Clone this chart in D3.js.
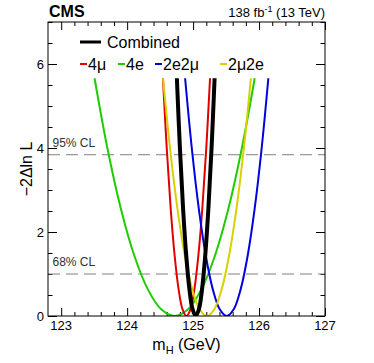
<!DOCTYPE html>
<html>
<head>
<meta charset="utf-8">
<script src="https://cdn.jsdelivr.net/npm/d3@7"></script>
<style>
  body { margin: 0; background: #fff; }
  svg { font-family: "Liberation Sans", Arial, Helvetica, sans-serif; }
</style>
</head>
<body>
<div id="chart"></div>
<script>
// -2 Delta ln L values shared by all scans (read at the same levels)
const dnll = [5.66, 4.0, 2.56, 1.44, 0.64, 0.16, 0, 0.16, 0.64, 1.44, 2.56, 4.0, 5.66];

// m_H values (GeV) of each scan at those levels
const massCombined = [124.754, 124.80, 124.848, 124.896, 124.944, 124.992, 125.04, 125.088, 125.136, 125.184, 125.232, 125.28, 125.326];
const mass4mu = [124.543, 124.60, 124.66, 124.72, 124.78, 124.84, 124.90, 124.96, 125.02, 125.08, 125.14, 125.20, 125.257];
const mass4e = [123.506, 123.70, 123.904, 124.108, 124.312, 124.516, 124.72, 124.924, 125.128, 125.332, 125.536, 125.74, 125.934];
const mass2e2mu = [124.879, 124.98, 125.086, 125.192, 125.298, 125.404, 125.51, 125.616, 125.722, 125.828, 125.934, 126.04, 126.141];
const mass2mu2e = [124.544, 124.65, 124.762, 124.874, 124.986, 125.098, 125.21, 125.322, 125.434, 125.546, 125.658, 125.77, 125.876];

const channels = [
  { name: "4e", mass: mass4e, color: "#1fcc00", width: 2 },
  { name: "4\u03bc", mass: mass4mu, color: "#e00000", width: 2 },
  { name: "2e2\u03bc", mass: mass2e2mu, color: "#0000e0", width: 2 },
  { name: "2\u03bc2e", mass: mass2mu2e, color: "#d9d000", width: 2 },
  { name: "Combined", mass: massCombined, color: "#000", width: 4 }
];

const xTicks = [123, 124, 125, 126, 127];
const yTicks = [0, 2, 4, 6];
const clLevels = [{ v: 3.84, label: "95% CL" }, { v: 1.0, label: "68% CL" }];

const W = 374, H = 363;
const margin = { top: 22, right: 49, bottom: 47, left: 48 };
const w = W - margin.left - margin.right;
const h = H - margin.top - margin.bottom;

const svg = d3.select("#chart").append("svg")
  .attr("width", W).attr("height", H);
const g = svg.append("g").attr("transform", `translate(${margin.left},${margin.top})`);

const x = d3.scaleLinear().domain([122.8, 127]).range([0, w]);
const y = d3.scaleLinear().domain([0, 7]).range([h, 0]);

// minor + major ticks on all four sides
const xMinor = d3.range(123, 127.001, 0.2);
const yMinor = d3.range(0, 7.001, 0.5);
function isMajor(v, arr) { return arr.some(t => Math.abs(t - v) < 1e-6); }

g.append("g").attr("transform", `translate(0,${h})`)
  .call(d3.axisBottom(x).tickValues(xMinor).tickFormat("").tickSizeInner(0).tickSizeOuter(0))
  .call(a => a.select(".domain").remove())
  .selectAll(".tick line").attr("y2", d => isMajor(d, xTicks) ? -8 : -4).attr("stroke", "#000");
g.append("g")
  .call(d3.axisTop(x).tickValues(xMinor).tickFormat("").tickSizeInner(0).tickSizeOuter(0))
  .call(a => a.select(".domain").remove())
  .selectAll(".tick line").attr("y2", d => isMajor(d, xTicks) ? 8 : 4).attr("stroke", "#000");
g.append("g")
  .call(d3.axisLeft(y).tickValues(yMinor).tickFormat("").tickSizeInner(0).tickSizeOuter(0))
  .call(a => a.select(".domain").remove())
  .selectAll(".tick line").attr("x2", d => isMajor(d, yTicks) ? 9 : 4.5).attr("stroke", "#000");
g.append("g").attr("transform", `translate(${w},0)`)
  .call(d3.axisRight(y).tickValues(yMinor).tickFormat("").tickSizeInner(0).tickSizeOuter(0))
  .call(a => a.select(".domain").remove())
  .selectAll(".tick line").attr("x2", d => isMajor(d, yTicks) ? -9 : -4.5).attr("stroke", "#000");

// tick labels
g.selectAll(".xl").data(xTicks).enter().append("text")
  .attr("x", d => x(d)).attr("y", h + 14)
  .attr("text-anchor", "middle").style("font-size", "13px").text(d => d);
g.selectAll(".yl").data(yTicks).enter().append("text")
  .attr("x", -4).attr("y", d => y(d) + 4.5)
  .attr("text-anchor", "end").style("font-size", "13px").text(d => d);

// CL lines
g.selectAll(".cl").data(clLevels).enter().append("line")
  .attr("x1", 0).attr("x2", w)
  .attr("y1", d => y(d.v)).attr("y2", d => y(d.v))
  .attr("stroke", "#808080").attr("stroke-width", 1).attr("stroke-dasharray", "12,6");
g.selectAll(".cltxt").data(clLevels).enter().append("text")
  .attr("x", 4.5).attr("y", d => y(d.v) - 8)
  .style("font-size", "12px").attr("fill", "#333").text(d => d.label);

// scans
const line = d3.line()
  .x(d => x(d[0])).y(d => y(d[1]))
  .curve(d3.curveCatmullRom.alpha(0.5));
g.append("clipPath").attr("id", "clip").append("rect").attr("width", w).attr("height", h);
channels.forEach(c => {
  g.append("path")
    .datum(c.mass.map((m, i) => [m, dnll[i]]))
    .attr("d", line)
    .attr("clip-path", "url(#clip)")
    .attr("fill", "none")
    .attr("stroke", c.color)
    .attr("stroke-width", c.width);
});

// frame
g.append("rect").attr("width", w).attr("height", h)
  .attr("fill", "none").attr("stroke", "#000").attr("stroke-width", 1);

// legend
const leg = g.append("g");
const comb = channels[4];
leg.append("line").attr("x1", 32).attr("x2", 53).attr("y1", 20).attr("y2", 20)
  .attr("stroke", comb.color).attr("stroke-width", 3);
leg.append("text").attr("x", 59).attr("y", 26).style("font-size", "16px").text("Combined");
const legendRow = [
  { c: channels[1], x0: 32 },
  { c: channels[0], x0: 70 },
  { c: channels[2], x0: 107 },
  { c: channels[3], x0: 172 }
];
legendRow.forEach(e => {
  leg.append("line").attr("x1", e.x0).attr("x2", e.x0 + 7).attr("y1", 42).attr("y2", 42)
    .attr("stroke", e.c.color).attr("stroke-width", 2);
  leg.append("text").attr("x", e.x0 + 8).attr("y", 48).style("font-size", "16px").text(e.c.name);
});

// axis titles
const xt = svg.append("text")
  .attr("x", margin.left + w / 2).attr("y", 350)
  .attr("text-anchor", "middle").style("font-size", "16px");
xt.append("tspan").text("m");
xt.append("tspan").attr("dy", 4).style("font-size", "11px").text("H");
xt.append("tspan").attr("dy", -4).text(" (GeV)");

svg.append("text")
  .attr("transform", `translate(32,${margin.top + h / 2}) rotate(-90)`)
  .attr("text-anchor", "middle").style("font-size", "16px")
  .text("\u22122\u0394ln L");

// header
svg.append("text").attr("x", 49).attr("y", 17)
  .style("font-size", "16px").style("font-weight", "bold").text("CMS");
const lumi = svg.append("text").attr("x", 325).attr("y", 17)
  .attr("text-anchor", "end").style("font-size", "13px");
lumi.append("tspan").text("138 fb");
lumi.append("tspan").attr("dy", -5).style("font-size", "9px").text("-1");
lumi.append("tspan").attr("dy", 5).text(" (13 TeV)");
</script>
</body>
</html>
